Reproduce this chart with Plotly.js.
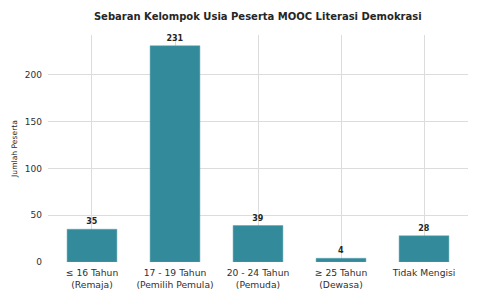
<!DOCTYPE html>
<html><head><meta charset="utf-8">
<script src="https://cdn.plot.ly/plotly-3.0.1.min.js"></script>
<style>body{margin:0;padding:0;background:#fff}#c{width:480px;height:300px}</style>
</head><body><div id="c"></div>
<script>
const categories = ["≤ 16 Tahun<br>(Remaja)", "17 - 19 Tahun<br>(Pemilih Pemula)", "20 - 24 Tahun<br>(Pemuda)", "≥ 25 Tahun<br>(Dewasa)", "Tidak Mengisi"];
const counts = [35, 231, 39, 4, 28];
const yTicks = [0, 50, 100, 150, 200];

const font = "DejaVu Sans, sans-serif";
const trace = {
  type: "bar",
  x: categories.map((_, i) => i),
  y: counts,
  width: 0.6,
  marker: {color: "#338a9a", line: {color: "#5aa3b0", width: 0.5}},
  text: counts.map(String),
  textposition: "outside",
  cliponaxis: false,
  textfont: {family: font, size: 8, color: "#262626", weight: "bold"},
  hoverinfo: "none"
};
const layout = {
  width: 480, height: 300,
  margin: {l: 48, r: 12, t: 35, b: 38},
  paper_bgcolor: "#fff", plot_bgcolor: "#fff",
  showlegend: false,
  font: {family: font, color: "#262626", size: 9},
  title: {text: "<b>Sebaran Kelompok Usia Peserta MOOC Literasi Demokrasi</b>", x: 0.537, xanchor: "center", y: 0.945, yanchor: "middle", font: {family: font, size: 10, color: "#262626"}},
  xaxis: {
    range: [-0.53, 4.53],
    tickmode: "array", tickvals: categories.map((_, i) => i), ticktext: categories,
    showgrid: true, gridcolor: "#dcdcdc", gridwidth: 1,
    zeroline: false, showline: false, ticks: "", ticklen: 0,
    ticklabelstandoff: 4,
    tickfont: {family: font, size: 9.2, color: "#303030"}
  },
  yaxis: {
    range: [0, 242.55],
    tickmode: "array", tickvals: yTicks,
    showgrid: true, gridcolor: "#dcdcdc", gridwidth: 1,
    zeroline: false, showline: false, ticks: "",
    ticklabelstandoff: 5,
    tickfont: {family: font, size: 9, color: "#303030"},
    title: {text: "Jumlah Peserta", font: {family: font, size: 7.6, color: "#262626"}, standoff: 6}
  },
  bargap: 0.4
};
Plotly.newPlot("c", [trace], layout, {staticPlot: true, displayModeBar: false});
</script></body></html>
